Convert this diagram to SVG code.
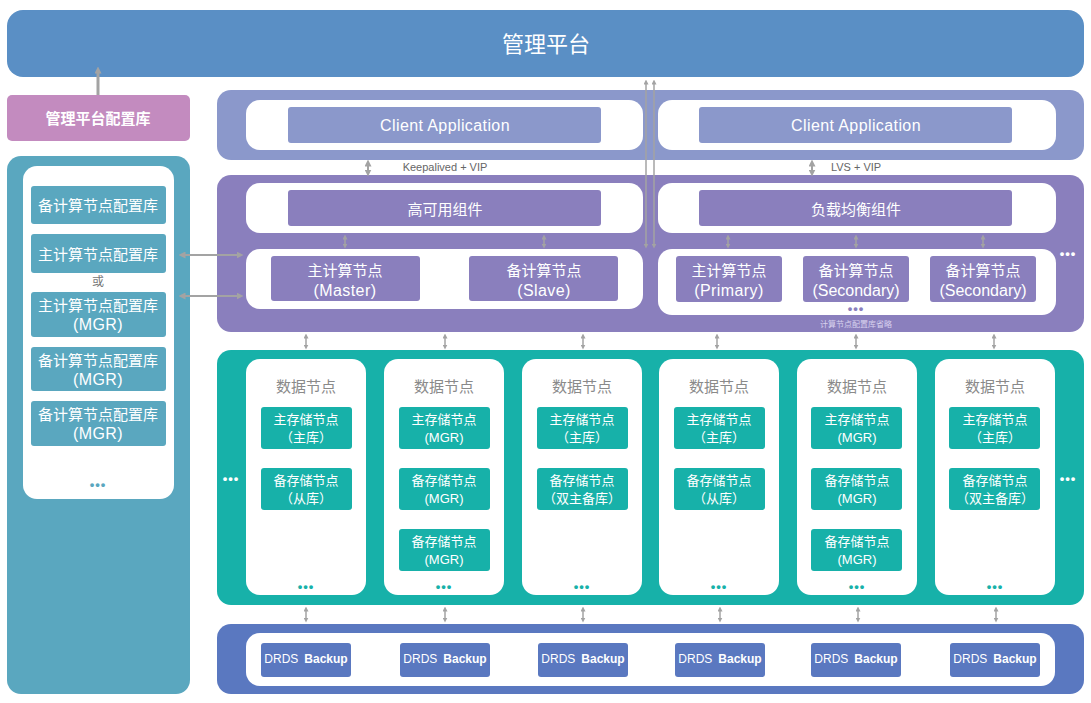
<svg xmlns="http://www.w3.org/2000/svg" width="1091" height="703" viewBox="0 0 1091 703">
<defs>
<marker id="ah" viewBox="0 0 10 10" refX="5" refY="5" markerWidth="5" markerHeight="5" orient="auto-start-reverse" markerUnits="userSpaceOnUse">
<path d="M0,0 L10,5 L0,10 z" fill="#a3a3a3"/>
</marker>
<marker id="ahs" viewBox="0 0 10 10" refX="5" refY="5" markerWidth="7" markerHeight="7" orient="auto-start-reverse" markerUnits="userSpaceOnUse">
<path d="M0,0 L10,5 L0,10 z" fill="#a3a3a3"/>
</marker>
</defs>
<style>
text{font-family:"Liberation Sans","Noto Sans CJK SC",sans-serif;text-anchor:middle;dominant-baseline:central}
.w{fill:#fff}
.wt{fill:#fff;font-size:15px}
.en{fill:#fff;font-size:16px;letter-spacing:0.4px}
.wb{fill:#fff;font-size:15px;font-weight:bold}
.sm{fill:#fff;font-size:13px}
.g{fill:#8a8a8a;font-size:15px}
.dots{font-size:13px;font-weight:bold;letter-spacing:1px}
.ar{stroke:#a3a3a3;stroke-width:2;fill:none;marker-start:url(#ahs);marker-end:url(#ahs)}
.ar1{stroke:#a3a3a3;stroke-width:1.5;fill:none;marker-start:url(#ah);marker-end:url(#ah)}
.cl{fill:#8b98cb}.cp{fill:#8a7fbd}.tl{fill:#17b1a9}.bl{fill:#5a78c0}.lb{fill:#5aa7bf}
</style>
<rect x="0" y="0" width="1091" height="703" fill="#fff"/>

<g id="mgmt">
<rect x="7" y="10" width="1077" height="67" rx="16" fill="#5a8fc5"/>
<text x="546" y="44" class="w" font-size="22">管理平台</text>
</g>

<g id="mgmt-db">
<rect x="7" y="95" width="183" height="46" rx="5" fill="#c38bbf"/>
<text x="98" y="118" class="wb">管理平台配置库</text>
</g>

<g id="config-panel">
<rect x="7" y="156" width="183" height="538" rx="14" class="lb"/>
<rect x="23" y="166" width="151" height="333" rx="14" class="w"/>
<rect x="31" y="186" width="135" height="38" rx="3" class="lb"/>
<text x="98" y="205" class="wt">备计算节点配置库</text>
<rect x="31" y="234" width="135" height="39" rx="3" class="lb"/>
<text x="98" y="254" class="wt">主计算节点配置库</text>
<text x="98" y="282" font-size="12" fill="#777">或</text>
<rect x="31" y="292" width="135" height="45" rx="3" class="lb"/>
<text x="98" y="305" class="wt">主计算节点配置库</text>
<text x="98" y="324" class="en">(MGR)</text>
<rect x="31" y="347" width="135" height="44" rx="3" class="lb"/>
<text x="98" y="360" class="wt">备计算节点配置库</text>
<text x="98" y="379" class="en">(MGR)</text>
<rect x="31" y="401" width="135" height="45" rx="3" class="lb"/>
<text x="98" y="414" class="wt">备计算节点配置库</text>
<text x="98" y="433" class="en">(MGR)</text>
<text x="98" y="484" class="dots" fill="#5aa7bf">•••</text>
</g>

<g id="client-layer">
<rect x="217" y="90" width="867" height="70" rx="14" class="cl"/>
<rect x="246" y="100" width="397" height="50" rx="14" class="w"/>
<rect x="658" y="100" width="398" height="50" rx="14" class="w"/>
<rect x="288" y="107" width="313" height="36" rx="3" class="cl"/>
<text x="445" y="125" class="en">Client Application</text>
<rect x="699" y="107" width="313" height="36" rx="3" class="cl"/>
<text x="856" y="125" class="en">Client Application</text>
</g>

<g id="compute-layer">
<rect x="217" y="175" width="867" height="157" rx="14" class="cp"/>
<rect x="246" y="183" width="397" height="50" rx="14" class="w"/>
<rect x="658" y="183" width="398" height="50" rx="14" class="w"/>
<rect x="288" y="190" width="313" height="36" rx="3" class="cp"/>
<text x="445" y="209" class="wt">高可用组件</text>
<rect x="699" y="190" width="313" height="36" rx="3" class="cp"/>
<text x="856" y="209" class="wt">负载均衡组件</text>
<rect x="246" y="249" width="397" height="60" rx="14" class="w"/>
<rect x="658" y="249" width="398" height="66" rx="14" class="w"/>
<rect x="271" y="256" width="149" height="45" rx="3" class="cp"/>
<text x="345" y="270" class="wt">主计算节点</text>
<text x="345" y="290" class="en">(Master)</text>
<rect x="469" y="256" width="149" height="45" rx="3" class="cp"/>
<text x="544" y="270" class="wt">备计算节点</text>
<text x="544" y="290" class="en">(Slave)</text>
<rect x="676" y="256" width="106" height="46" rx="3" class="cp"/>
<text x="729" y="270" class="wt">主计算节点</text>
<text x="729" y="290" class="en">(Primary)</text>
<rect x="803" y="256" width="106" height="46" rx="3" class="cp"/>
<text x="856" y="270" class="wt">备计算节点</text>
<text x="856" y="290" class="en" style="letter-spacing:0">(Secondary)</text>
<rect x="930" y="256" width="106" height="46" rx="3" class="cp"/>
<text x="983" y="270" class="wt">备计算节点</text>
<text x="983" y="290" class="en" style="letter-spacing:0">(Secondary)</text>
<text x="856" y="308" class="dots" fill="#8a7fbd" font-size="9">•••</text>
<text x="856" y="324" font-size="8" fill="#d8d2ee">计算节点配置库省略</text>
<text x="1068" y="253" class="dots w">•••</text>
</g>

<g id="data-layer">
<rect x="217" y="350" width="867" height="255" rx="14" class="tl"/>
<text x="231" y="478" class="dots w">•••</text>
<text x="1068" y="478" class="dots w">•••</text>
<g id="dn1">
<rect x="246" y="359" width="120" height="236" rx="14" class="w"/>
<text x="306" y="386" class="g">数据节点</text>
<rect x="261" y="407" width="91" height="42" rx="3" class="tl"/>
<text x="306" y="419" class="sm">主存储节点</text><text x="306" y="437" class="sm">（主库）</text>
<rect x="261" y="468" width="91" height="42" rx="3" class="tl"/>
<text x="306" y="480" class="sm">备存储节点</text><text x="306" y="498" class="sm">（从库）</text>
<text x="306" y="586" class="dots" fill="#17b1a9">•••</text>
</g>
<g id="dn2">
<rect x="384" y="359" width="120" height="236" rx="14" class="w"/>
<text x="444" y="386" class="g">数据节点</text>
<rect x="399" y="407" width="91" height="42" rx="3" class="tl"/>
<text x="444" y="419" class="sm">主存储节点</text><text x="444" y="437" class="sm">(MGR)</text>
<rect x="399" y="468" width="91" height="42" rx="3" class="tl"/>
<text x="444" y="480" class="sm">备存储节点</text><text x="444" y="498" class="sm">(MGR)</text>
<rect x="399" y="529" width="91" height="42" rx="3" class="tl"/>
<text x="444" y="541" class="sm">备存储节点</text><text x="444" y="559" class="sm">(MGR)</text>
<text x="444" y="586" class="dots" fill="#17b1a9">•••</text>
</g>
<g id="dn3">
<rect x="522" y="359" width="120" height="236" rx="14" class="w"/>
<text x="582" y="386" class="g">数据节点</text>
<rect x="537" y="407" width="91" height="42" rx="3" class="tl"/>
<text x="582" y="419" class="sm">主存储节点</text><text x="582" y="437" class="sm">（主库）</text>
<rect x="537" y="468" width="91" height="42" rx="3" class="tl"/>
<text x="582" y="480" class="sm">备存储节点</text><text x="582" y="498" class="sm">（双主备库）</text>
<text x="582" y="586" class="dots" fill="#17b1a9">•••</text>
</g>
<g id="dn4">
<rect x="659" y="359" width="120" height="236" rx="14" class="w"/>
<text x="719" y="386" class="g">数据节点</text>
<rect x="674" y="407" width="91" height="42" rx="3" class="tl"/>
<text x="719" y="419" class="sm">主存储节点</text><text x="719" y="437" class="sm">（主库）</text>
<rect x="674" y="468" width="91" height="42" rx="3" class="tl"/>
<text x="719" y="480" class="sm">备存储节点</text><text x="719" y="498" class="sm">（从库）</text>
<text x="719" y="586" class="dots" fill="#17b1a9">•••</text>
</g>
<g id="dn5">
<rect x="797" y="359" width="120" height="236" rx="14" class="w"/>
<text x="857" y="386" class="g">数据节点</text>
<rect x="811" y="407" width="91" height="42" rx="3" class="tl"/>
<text x="857" y="419" class="sm">主存储节点</text><text x="857" y="437" class="sm">(MGR)</text>
<rect x="811" y="468" width="91" height="42" rx="3" class="tl"/>
<text x="857" y="480" class="sm">备存储节点</text><text x="857" y="498" class="sm">(MGR)</text>
<rect x="811" y="529" width="91" height="42" rx="3" class="tl"/>
<text x="857" y="541" class="sm">备存储节点</text><text x="857" y="559" class="sm">(MGR)</text>
<text x="857" y="586" class="dots" fill="#17b1a9">•••</text>
</g>
<g id="dn6">
<rect x="935" y="359" width="120" height="236" rx="14" class="w"/>
<text x="995" y="386" class="g">数据节点</text>
<rect x="949" y="407" width="91" height="42" rx="3" class="tl"/>
<text x="995" y="419" class="sm">主存储节点</text><text x="995" y="437" class="sm">（主库）</text>
<rect x="949" y="468" width="91" height="42" rx="3" class="tl"/>
<text x="995" y="480" class="sm">备存储节点</text><text x="995" y="498" class="sm">（双主备库）</text>
<text x="995" y="586" class="dots" fill="#17b1a9">•••</text>
</g>
</g>

<g id="backup-layer">
<rect x="217" y="624" width="867" height="70" rx="14" class="bl"/>
<rect x="246" y="633" width="809" height="53" rx="14" class="w"/>
<g font-size="12" fill="#fff">
<rect x="261" y="643" width="90" height="34" rx="3" class="bl"/>
<text x="306" y="659"><tspan>DRDS</tspan><tspan dx="6" font-weight="bold">Backup</tspan></text>
<rect x="400" y="643" width="90" height="34" rx="3" class="bl"/>
<text x="445" y="659"><tspan>DRDS</tspan><tspan dx="6" font-weight="bold">Backup</tspan></text>
<rect x="538" y="643" width="90" height="34" rx="3" class="bl"/>
<text x="583" y="659"><tspan>DRDS</tspan><tspan dx="6" font-weight="bold">Backup</tspan></text>
<rect x="675" y="643" width="90" height="34" rx="3" class="bl"/>
<text x="720" y="659"><tspan>DRDS</tspan><tspan dx="6" font-weight="bold">Backup</tspan></text>
<rect x="811" y="643" width="90" height="34" rx="3" class="bl"/>
<text x="856" y="659"><tspan>DRDS</tspan><tspan dx="6" font-weight="bold">Backup</tspan></text>
<rect x="950" y="643" width="90" height="34" rx="3" class="bl"/>
<text x="995" y="659"><tspan>DRDS</tspan><tspan dx="6" font-weight="bold">Backup</tspan></text>
</g>
</g>

<g id="connectors">
<path d="M98,95 V70" stroke="#a3a3a3" stroke-width="3" marker-end="url(#ahs)" fill="none"/>
<path class="ar" d="M182,255 H240"/>
<path class="ar" d="M182,296 H240"/>
<path class="ar1" d="M646,82 V246"/>
<path class="ar1" d="M654,82 V246"/>
<path class="ar" d="M368,163 V173"/>
<text x="445" y="167" font-size="11" fill="#666">Keepalived + VIP</text>
<path class="ar" d="M812,163 V173"/>
<text x="856" y="167" font-size="11" fill="#666">LVS + VIP</text>
<path class="ar1" d="M345,237 V246"/>
<path class="ar1" d="M544,237 V246"/>
<path class="ar1" d="M728,237 V246"/>
<path class="ar1" d="M856,237 V246"/>
<path class="ar1" d="M983,237 V246"/>
<path class="ar1" d="M306,336 V347"/>
<path class="ar1" d="M445,336 V347"/>
<path class="ar1" d="M583,336 V347"/>
<path class="ar1" d="M717,336 V347"/>
<path class="ar1" d="M856,336 V347"/>
<path class="ar1" d="M994,336 V347"/>
<path class="ar1" d="M306,609 V620"/>
<path class="ar1" d="M445,609 V620"/>
<path class="ar1" d="M583,609 V620"/>
<path class="ar1" d="M720,609 V620"/>
<path class="ar1" d="M858,609 V620"/>
<path class="ar1" d="M996,609 V620"/>
</g>
</svg>
